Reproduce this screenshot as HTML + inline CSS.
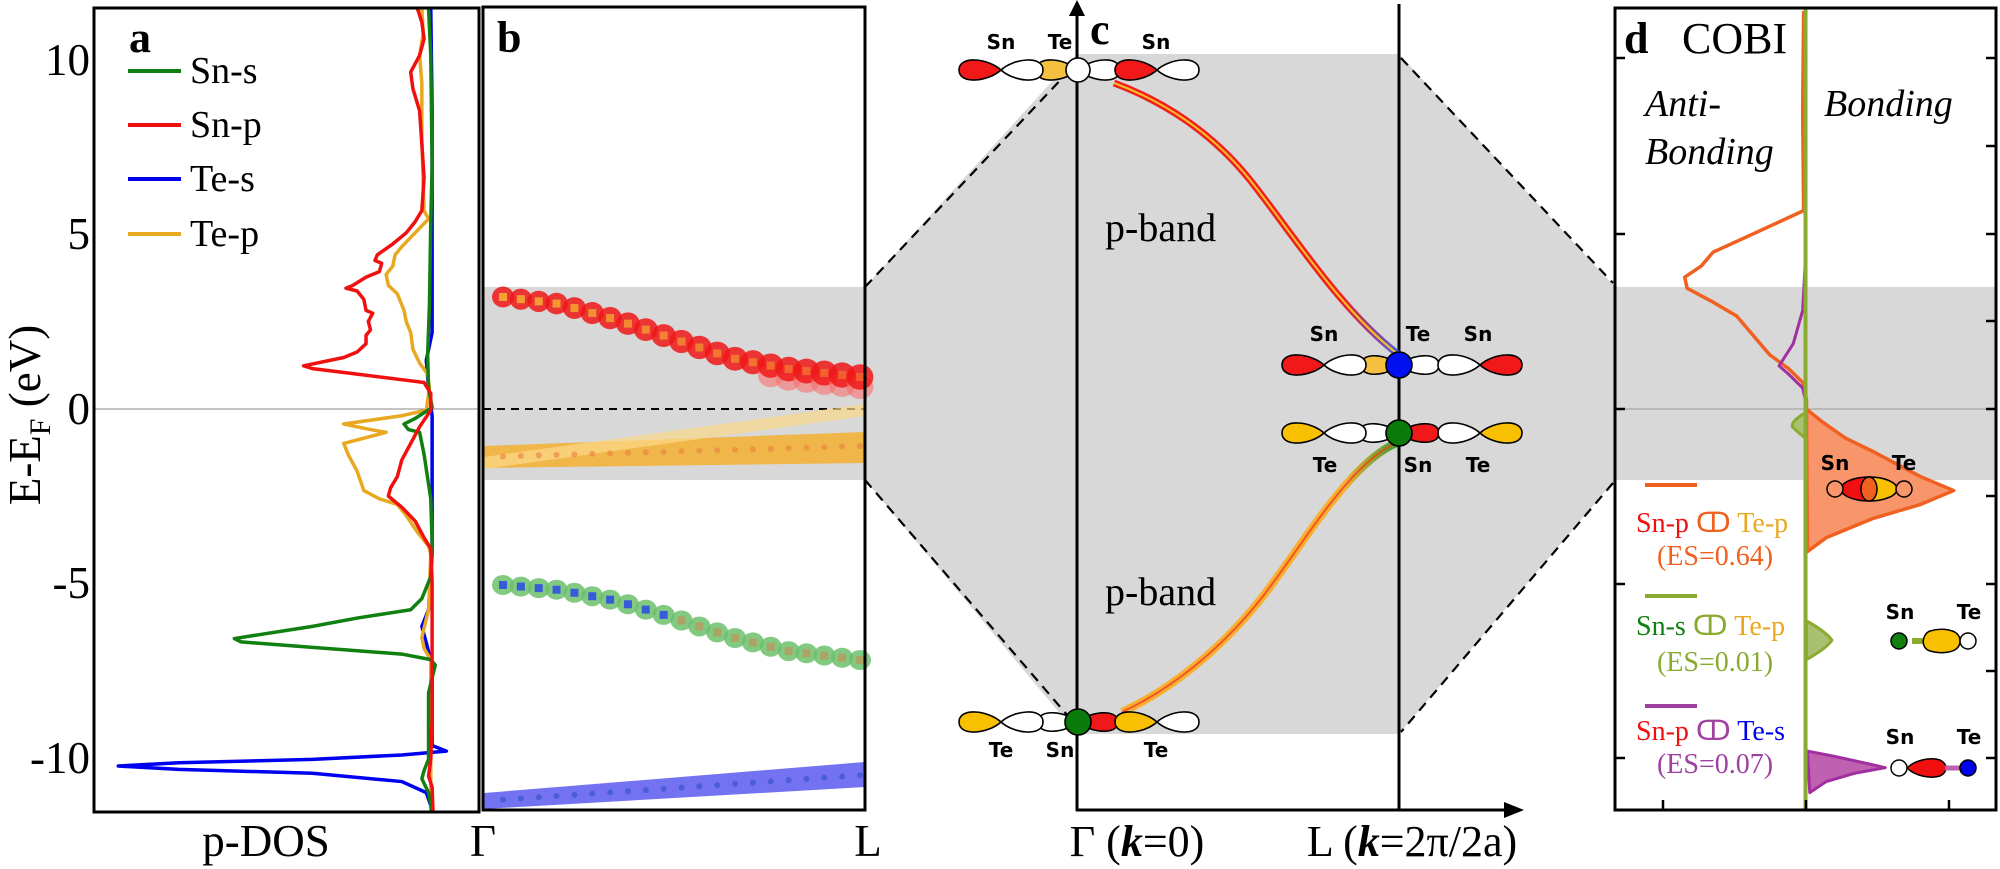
<!DOCTYPE html>
<html><head><meta charset="utf-8"><style>
html,body{margin:0;padding:0;background:#fff;}
svg{display:block;}
.serif{font-family:"Liberation Serif",serif;}
.lab{font-family:"DejaVu Sans","Liberation Sans",sans-serif;font-weight:bold;font-size:20px;}
</style></head><body>
<svg id="s" width="2000" height="869" viewBox="0 0 2000 869" xmlns="http://www.w3.org/2000/svg" font-family="Liberation Serif, serif">
<defs>
<clipPath id="ca"><rect x="94" y="8" width="385" height="804"/></clipPath>
<clipPath id="cd"><rect x="1615" y="8" width="381" height="802"/></clipPath>
<linearGradient id="gu" x1="1114" y1="0" x2="1399" y2="0" gradientUnits="userSpaceOnUse">
<stop offset="0.8" stop-color="#f02020"/><stop offset="1" stop-color="#4060f0"/></linearGradient>
<linearGradient id="gl" x1="1122" y1="0" x2="1399" y2="0" gradientUnits="userSpaceOnUse">
<stop offset="0.8" stop-color="#f8b030"/><stop offset="1" stop-color="#30a030"/></linearGradient>
</defs>

<rect x="483" y="287" width="382" height="193" fill="#d8d8d8"/>
<polygon points="865,287 1077,54 1399,54 1615,287 1615,480 1399,734 1077,734 865,480" fill="#d8d8d8"/>
<rect x="1615" y="287" width="381" height="193" fill="#d8d8d8"/>

<!-- Panel a -->
<line x1="94" y1="409" x2="479" y2="409" stroke="#888" stroke-width="1"/>
<g clip-path="url(#ca)"><g transform="scale(0.4464,0.5543)" fill="none" stroke-width="3.5" stroke-linejoin="round">
<polyline vector-effect="non-scaling-stroke" stroke="#0000f0" points="965,15 968,200 968,600 955,650 960,700 968,750 968,1000 960,1100 945,1130 955,1160 968,1200 968,1345 1000,1355 900,1362 700,1370 400,1376 265,1382 400,1388 700,1395 900,1410 955,1430 970,1465"/>
<polyline vector-effect="non-scaling-stroke" stroke="#e8a820" points="945,15 948,60 940,100 945,150 945,250 948,330 950,380 960,395 930,420 900,445 885,460 880,480 865,495 870,515 890,530 905,560 910,580 920,600 925,630 940,655 958,675 962,700 955,740 900,750 770,765 830,775 865,780 770,800 780,820 800,850 815,885 850,900 890,910 910,930 935,960 960,985 965,1000 960,1100 945,1150 950,1170 965,1190 965,1465"/>
<polyline vector-effect="non-scaling-stroke" stroke="#108010" points="960,15 965,100 968,300 965,400 962,550 958,640 960,700 968,735 930,755 905,765 915,775 940,780 950,820 965,900 968,980 965,1040 945,1080 920,1100 800,1115 700,1130 525,1152 540,1158 700,1168 900,1180 965,1190 975,1200 960,1250 960,1370 950,1390 945,1405 960,1430 968,1465"/>
<polyline vector-effect="non-scaling-stroke" stroke="#f01010" points="935,15 945,40 950,70 940,100 920,130 925,160 940,200 945,260 950,320 945,380 930,400 910,420 880,440 845,460 840,470 855,475 850,490 820,500 790,515 775,520 800,525 815,540 820,560 835,565 825,580 830,595 820,605 820,620 800,635 770,645 680,660 700,665 800,675 900,685 950,690 965,710 965,740 940,770 920,800 900,830 890,860 875,880 870,895 900,915 930,940 950,970 965,990 968,1050 968,1300 965,1370 960,1400 968,1420 970,1465"/>
</g></g>
<rect x="94" y="8" width="385" height="804" fill="none" stroke="#000" stroke-width="3"/>
<g class="serif" font-size="45" text-anchor="end">
<text x="90" y="75">10</text><text x="90" y="249">5</text><text x="90" y="424">0</text><text x="90" y="598">-5</text><text x="90" y="773">-10</text>
</g>
<text class="serif" font-size="45" transform="translate(40,415) rotate(-90)" text-anchor="middle">E-E<tspan font-size="30" dy="10">F</tspan><tspan dy="-10"> (eV)</tspan></text>
<text class="serif" x="129" y="52" font-size="44" font-weight="bold">a</text>
<g stroke-width="4">
<line x1="128" y1="71" x2="181" y2="71" stroke="#108010"/>
<line x1="128" y1="125" x2="181" y2="125" stroke="#f01010"/>
<line x1="128" y1="179" x2="181" y2="179" stroke="#0000f0"/>
<line x1="128" y1="234" x2="181" y2="234" stroke="#e8a820"/>
</g>
<g class="serif" font-size="38">
<text x="190" y="83">Sn-s</text><text x="190" y="137">Sn-p</text><text x="190" y="191">Te-s</text><text x="190" y="246">Te-p</text>
</g>
<text class="serif" x="266" y="856" font-size="45" text-anchor="middle">p-DOS</text>

<!-- Panel b -->
<line x1="483" y1="409" x2="865" y2="409" stroke="#000" stroke-width="2" stroke-dasharray="8,6"/>
<polygon points="484,446 865,432 865,463 484,468" fill="#f5b030" opacity="0.85"/>
<polygon points="484,457 865,404 865,416 484,469" fill="#fbd88a" opacity="0.7"/>
<polygon points="484,793 865,762 865,787 484,809" fill="#5a5af0" opacity="0.85"/>
<g id="bdots"></g>
<rect x="483" y="7" width="382" height="803" fill="none" stroke="#000" stroke-width="3"/>
<text class="serif" x="497" y="52" font-size="44" font-weight="bold">b</text>
<text class="serif" x="483" y="856" font-size="45" text-anchor="middle">Γ</text>
<text class="serif" x="868" y="856" font-size="45" text-anchor="middle">L</text>

<!-- Panel c -->
<g stroke="#000" stroke-width="2.2" stroke-dasharray="10,7" fill="none">
<line x1="865" y1="287" x2="1068" y2="72"/><line x1="865" y1="480" x2="1068" y2="716"/>
<line x1="1401" y1="58" x2="1613" y2="283"/><line x1="1613" y1="483" x2="1401" y2="732"/>
</g>
<line x1="1077" y1="10" x2="1077" y2="811" stroke="#000" stroke-width="3"/>
<polygon points="1077,0 1069,16 1085,16" fill="#000"/>
<line x1="1399" y1="4" x2="1399" y2="811" stroke="#000" stroke-width="3"/>
<line x1="1076" y1="810" x2="1508" y2="810" stroke="#000" stroke-width="3"/>
<polygon points="1524,810 1504,802 1504,818" fill="#000"/>
<path d="M1114,83 C1160,100 1210,130 1250,180 S1340,310 1399,355" fill="none" stroke="url(#gu)" stroke-width="7"/>
<path d="M1114,83 C1160,100 1210,130 1250,180 S1340,310 1399,355" fill="none" stroke="#f8c020" stroke-width="2"/>
<path d="M1122,712 C1170,690 1220,650 1260,600 S1350,460 1399,442" fill="none" stroke="url(#gl)" stroke-width="8"/>
<path d="M1122,712 C1170,690 1220,650 1260,600 S1350,460 1399,442" fill="none" stroke="#f04020" stroke-width="2" opacity="0.8"/>
<text class="serif" x="1105" y="241" font-size="40">p-band</text>
<text class="serif" x="1105" y="605" font-size="40">p-band</text>
<text class="serif" x="1090" y="44" font-size="44" font-weight="bold">c</text>
<g id="orb"></g>
<g class="lab" text-anchor="middle">
<text x="1001" y="49">Sn</text><text x="1060" y="49">Te</text><text x="1156" y="49">Sn</text>
<text x="1324" y="341">Sn</text><text x="1418" y="341">Te</text><text x="1478" y="341">Sn</text>
<text x="1325" y="472">Te</text><text x="1418" y="472">Sn</text><text x="1478" y="472">Te</text>
<text x="1001" y="757">Te</text><text x="1060" y="757">Sn</text><text x="1156" y="757">Te</text>
</g>
<text class="serif" x="1137" y="856" font-size="44" text-anchor="middle">Γ (<tspan font-weight="bold" font-style="italic">k</tspan>=0)</text>
<text class="serif" x="1412" y="856" font-size="44" text-anchor="middle">L (<tspan font-weight="bold" font-style="italic">k</tspan>=2π/2a)</text>

<!-- Panel d -->
<line x1="1615" y1="409" x2="1996" y2="409" stroke="#999" stroke-width="1"/>
<g clip-path="url(#cd)"><g transform="translate(1260,0) scale(0.4719,0.5543)" stroke-linejoin="round">
<path vector-effect="non-scaling-stroke" d="M1158,738 L1190,760 1240,790 1300,815 1400,860 1470,885 1400,910 1300,935 1200,970 1160,995 Z" fill="#f8956a" stroke="#f06020" stroke-width="3.5"/>
<polyline vector-effect="non-scaling-stroke" fill="none" stroke="#f06020" stroke-width="3.5" points="1152,20 1150,200 1152,380 1050,420 960,455 935,480 900,500 905,520 960,545 1010,570 1040,600 1080,640 1120,665 1150,690 1158,720 1158,740"/>
<polyline vector-effect="non-scaling-stroke" fill="none" stroke="#a030a0" stroke-width="3" points="1155,480 1150,560 1130,620 1100,660 1120,675 1150,700 1158,730"/>
<path vector-effect="non-scaling-stroke" d="M1160,1355 L1220,1365 1300,1380 1325,1385 1260,1395 1200,1410 1165,1430 Z" fill="#c060b0" stroke="#a030a0" stroke-width="3"/>
<path vector-effect="non-scaling-stroke" d="M1158,1120 Q1200,1140 1212,1155 Q1200,1170 1158,1190 Z" fill="#a8c070" stroke="#8aab30" stroke-width="3"/>
<path vector-effect="non-scaling-stroke" d="M1155,745 Q1125,760 1128,770 Q1140,780 1155,790 Z" fill="#a8c070" stroke="#8aab30" stroke-width="3"/>
<line vector-effect="non-scaling-stroke" x1="1156" y1="15" x2="1156" y2="1462" stroke="#8aab30" stroke-width="4"/>
</g></g>
<rect x="1615" y="8" width="381" height="802" fill="none" stroke="#000" stroke-width="3"/>
<g stroke="#000" stroke-width="2.5">
<line x1="1615" y1="58" x2="1625" y2="58"/><line x1="1615" y1="234" x2="1625" y2="234"/><line x1="1615" y1="409" x2="1625" y2="409"/><line x1="1615" y1="584" x2="1625" y2="584"/><line x1="1615" y1="758" x2="1625" y2="758"/>
<line x1="1986" y1="58" x2="1996" y2="58"/><line x1="1986" y1="146" x2="1996" y2="146"/><line x1="1986" y1="234" x2="1996" y2="234"/><line x1="1986" y1="321" x2="1996" y2="321"/><line x1="1986" y1="409" x2="1996" y2="409"/><line x1="1986" y1="496" x2="1996" y2="496"/><line x1="1986" y1="584" x2="1996" y2="584"/><line x1="1986" y1="671" x2="1996" y2="671"/><line x1="1986" y1="758" x2="1996" y2="758"/>
<line x1="1663" y1="800" x2="1663" y2="810"/><line x1="1806" y1="800" x2="1806" y2="810"/><line x1="1949" y1="800" x2="1949" y2="810"/>
</g>
<text class="serif" x="1624" y="53" font-size="44" font-weight="bold">d</text>
<text class="serif" x="1682" y="53" font-size="44">COBI</text>
<g class="serif" font-size="38" font-style="italic">
<text x="1645" y="116">Anti-</text><text x="1645" y="164">Bonding</text><text x="1824" y="116">Bonding</text>
</g>
<g stroke-width="4">
<line x1="1645" y1="485" x2="1697" y2="485" stroke="#f06020"/>
<line x1="1645" y1="596" x2="1697" y2="596" stroke="#8aab30"/>
<line x1="1645" y1="706" x2="1697" y2="706" stroke="#a040a0"/>
</g>
<g class="serif" font-size="28">
<text x="1636" y="532"><tspan fill="#f01010">Sn-p</tspan> <tspan fill="#f06020">ↀ</tspan> <tspan fill="#e8a820">Te-p</tspan></text>
<text x="1715" y="565" text-anchor="middle" fill="#f06020">(ES=0.64)</text>
<text x="1636" y="635"><tspan fill="#108010">Sn-s</tspan> <tspan fill="#8aab30">ↀ</tspan> <tspan fill="#e8a820">Te-p</tspan></text>
<text x="1715" y="671" text-anchor="middle" fill="#8aab30">(ES=0.01)</text>
<text x="1636" y="740"><tspan fill="#f01010">Sn-p</tspan> <tspan fill="#a040a0">ↀ</tspan> <tspan fill="#0000f0">Te-s</tspan></text>
<text x="1715" y="773" text-anchor="middle" fill="#a040a0">(ES=0.07)</text>
</g>
<g class="lab" text-anchor="middle" font-size="19">
<text x="1835" y="470">Sn</text><text x="1904" y="470">Te</text>
<text x="1900" y="619">Sn</text><text x="1969" y="619">Te</text>
<text x="1900" y="744">Sn</text><text x="1969" y="744">Te</text>
</g>
<g stroke="#000" stroke-width="1.5">
<ellipse cx="1869" cy="489" rx="28" ry="12" fill="#f01010"/>
<path d="M1869,477 A28,12 0 0 1 1869,501 Z" fill="#f8c000"/>
<ellipse cx="1869" cy="489" rx="8" ry="12" fill="#f06020"/>
<circle cx="1835" cy="489" r="8" fill="#f8956a"/><circle cx="1904" cy="489" r="8" fill="#f8956a"/>
<line x1="1912" y1="641" x2="1930" y2="641" stroke="#8aab30" stroke-width="6"/>
<path d="M1960,641 C1960,628 1940,628 1930,631 C1922,634 1920,648 1930,651 C1940,654 1960,654 1960,641 Z" fill="#f8c000"/>
<circle cx="1899" cy="641" r="8" fill="#108010"/><circle cx="1968" cy="641" r="8" fill="#fff"/>
<path d="M1907,768 C1915,760 1930,757 1940,760 C1948,764 1948,772 1940,776 C1930,779 1915,776 1907,768 Z" fill="#f01010"/>
<line x1="1945" y1="768" x2="1960" y2="768" stroke="#c060b0" stroke-width="5"/>
<circle cx="1899" cy="768" r="8" fill="#fff"/><circle cx="1968" cy="768" r="8" fill="#0000f0"/>
</g>
</svg>
<script>
var NS="http://www.w3.org/2000/svg";
function el(p,t,a){var e=document.createElementNS(NS,t);for(var k in a)e.setAttribute(k,a[k]);p.appendChild(e);return e;}
var o=document.getElementById("orb");
function lobe(cx,cy,dir,len,h,fill){
 var x2=cx+dir*len;
 var d="M"+cx+","+cy+" C"+(cx+dir*len*0.3)+","+(cy-h*0.9)+" "+x2+","+(cy-h*1.15)+" "+x2+","+cy+" C"+x2+","+(cy+h*1.15)+" "+(cx+dir*len*0.3)+","+(cy+h*0.9)+" "+cx+","+cy+"Z";
 el(o,"path",{d:d,fill:fill,stroke:"#000","stroke-width":1.6});
}
var R="#f01818",Y="#f8c000",W="#fff",Yl="#f5c040";
var y=70;
lobe(1078,y,-1,42,13,Yl);lobe(1078,y,1,42,13,W);
lobe(1001,y,-1,42,13,R);lobe(1001,y,1,42,13,W);
lobe(1157,y,-1,42,13,R);lobe(1157,y,1,42,13,W);
el(o,"circle",{cx:1078,cy:y,r:12,fill:W,stroke:"#000","stroke-width":1.6});
y=365;
lobe(1399,y,-1,38,12,Yl);lobe(1399,y,1,40,12,W);
lobe(1324,y,-1,42,13,R);lobe(1324,y,1,42,13,W);
lobe(1480,y,-1,42,13,W);lobe(1480,y,1,42,13,R);
el(o,"circle",{cx:1399,cy:y,r:13,fill:"#0010f0",stroke:"#000","stroke-width":1.6});
y=433;
lobe(1399,y,-1,40,12,W);lobe(1399,y,1,40,12,R);
lobe(1324,y,-1,42,13,Y);lobe(1324,y,1,42,13,W);
lobe(1480,y,-1,42,13,W);lobe(1480,y,1,42,13,Y);
el(o,"circle",{cx:1399,cy:y,r:13,fill:"#0a7a0a",stroke:"#000","stroke-width":1.6});
y=722;
lobe(1078,y,-1,40,12,W);lobe(1078,y,1,40,12,R);
lobe(1001,y,-1,42,13,Y);lobe(1001,y,1,42,13,W);
lobe(1157,y,-1,42,13,Y);lobe(1157,y,1,42,13,W);
el(o,"circle",{cx:1078,cy:y,r:13,fill:"#0a7a0a",stroke:"#000","stroke-width":1.6});
var b=document.getElementById("bdots");
function interp(pts,x){for(var i=0;i<pts.length-1;i++){if(x<=pts[i+1][0]){var t=(x-pts[i][0])/(pts[i+1][0]-pts[i][0]);return pts[i][1]+t*(pts[i+1][1]-pts[i][1]);}}return pts[pts.length-1][1];}
var red=[[503,297],[560,304],[617,320],[674,339],[731,358],[788,369],[860,377]];
var grn=[[503,585],[560,590],[617,601],[674,618],[731,637],[788,651],[860,660]];
for(var i=0;i<21;i++){
 var x=503+i*(860-503)/20;
 var yr=interp(red,x), yg=interp(grn,x);
 var r=11+i*0.12;
 if(i>14) el(b,"ellipse",{cx:x,cy:yr+10,rx:r,ry:r*0.9,fill:"#f87070",opacity:0.6});
 el(b,"ellipse",{cx:x,cy:yr,rx:r,ry:r*0.95,fill:"#f01818",opacity:0.85});
 el(b,"rect",{x:x-4,y:yr-4,width:8,height:8,fill:"#f5a030",opacity:1-i*0.03});
 el(b,"ellipse",{cx:x,cy:yg,rx:11,ry:10,fill:"#6cbf6c",opacity:0.85});
 el(b,"rect",{x:x-4,y:yg-4,width:8,height:8,fill:i<10?"#3050e0":"#b0a060",opacity:0.9});
 var yo=457+(x-484)*(446-457)/(865-484);
 el(b,"circle",{cx:x,cy:yo,r:3,fill:"#e88040",opacity:0.6});
 var yb=801+(x-484)*(775-801)/(865-484);
 el(b,"circle",{cx:x,cy:yb,r:3,fill:"#3050c0",opacity:0.6});
}
</script>
</body></html>
